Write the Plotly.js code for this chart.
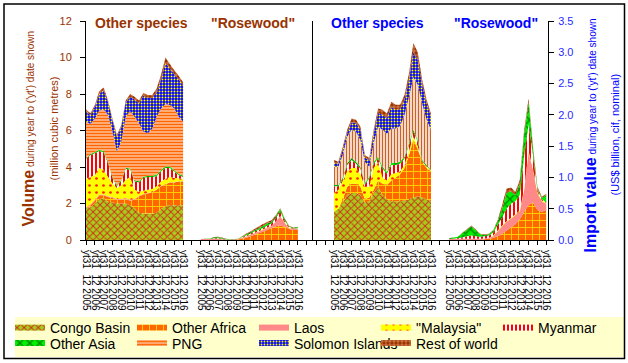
<!DOCTYPE html>
<html><head><meta charset="utf-8">
<script src="https://cdn.plot.ly/plotly-3.0.1.min.js"></script>
<style>html,body{margin:0;padding:0;background:#fff}#chart{width:628px;height:363px}</style>
</head><body><div id="chart"></div>
<script>
// ---------- DATA ----------
const TIMES = [2005,2005.5,2006,2006.5,2007,2007.5,2008,2008.5,2009,2009.5,2010,2010.5,2011,2011.5,2012,2012.5,2013,2013.5,2014,2014.5,2015,2015.5,2016];
const TICK_LABELS = ['yt31\u00a0\u00a012 2005','yt31\u00a0\u00a012 2006','yt31\u00a0\u00a012 2007','yt31\u00a0\u00a012 2008','yt31\u00a0\u00a012 2009','yt31\u00a0\u00a012 2010','yt31\u00a0\u00a012 2011','yt31\u00a0\u00a012 2012','yt31\u00a0\u00a012 2013','yt31\u00a0\u00a012 2014','yt31\u00a0\u00a012 2015','yt31\u00a0\u00a012 2016'];
const SERIES = ['Congo Basin','Other Africa','Laos','"Malaysia"','Myanmar','Other Asia','PNG','Solomon Islands','Rest of world'];
const Y_LEFT_TICKS = [0,2,4,6,8,10,12];
const Y_RIGHT_TICKS = [0,0.5,1,1.5,2,2.5,3,3.5];

// Volume, other species (million m3)
const vo_congo       = [1.75,1.8,2.0,2.25,2.3,2.1,2.05,2.0,2.0,2.0,1.9,1.75,1.5,1.45,1.45,1.45,1.5,1.7,1.85,1.9,1.9,1.9,1.9];
const vo_otherAfrica = [0,0.1,0.15,0.2,0.15,0.25,0.25,0.2,0.2,0.25,0.25,0.45,0.9,1.05,1.1,1.15,1.25,1.25,1.2,1.25,1.25,1.3,1.3];
const vo_laos        = [0.05,0.05,0.05,0.05,0.05,0.05,0.05,0.05,0.05,0.05,0.05,0.05,0.02,0.02,0.02,0.02,0.02,0.02,0.02,0.02,0.02,0.02,0.02];
const vo_malaysia    = [1.55,1.5,1.35,1.45,1.35,1.05,0.75,0.6,0.75,1.0,1.25,0.5,0.23,0.18,0.18,0.18,0.18,0.23,0.28,0.28,0.23,0.16,0.13];
const vo_myanmar     = [1.1,1.2,1.2,0.92,0.95,0.75,0.3,0.1,0.25,0.6,0.4,0.45,0.5,0.7,0.7,0.65,0.55,0.55,0.6,0.5,0.35,0.17,0.1];
const vo_otherAsia   = [0.05,0.05,0.07,0.08,0.08,0.07,0.06,0.05,0.05,0.06,0.07,0.07,0.07,0.07,0.07,0.07,0.07,0.08,0.08,0.08,0.07,0.07,0.07];
const vo_png         = [2.0,1.65,1.83,2.15,2.27,2.58,2.49,1.85,2.1,2.79,3.13,3.48,3.18,2.48,2.33,2.58,3.18,3.37,3.42,3.37,3.38,3.13,2.98];
const vo_solomon     = [0.55,0.5,0.65,0.9,1.05,0.7,0.6,0.8,0.8,0.8,0.8,0.95,1.1,1.95,1.95,1.7,1.35,1.6,2.25,2.0,1.9,2.05,2.0];
const vo_rest        = [0.1,0.1,0.1,0.15,0.15,0.1,0.1,0.1,0.1,0.1,0.15,0.15,0.15,0.15,0.15,0.15,0.2,0.25,0.3,0.25,0.2,0.2,0.15];

// Volume, "Rosewood" (million m3)
const vr_congo       = [0,0,0,0,0,0,0,0,0,0,0,0,0,0,0,0,0,0,0,0,0,0,0];
const vr_otherAfrica = [0,0,0,0,0,0,0,0,0.02,0.05,0.1,0.18,0.27,0.35,0.45,0.55,0.65,0.75,0.8,0.72,0.6,0.55,0.56];
const vr_laos        = [0.05,0.06,0.07,0.07,0.06,0.04,0.02,0.02,0.01,0.03,0.05,0.07,0.08,0.1,0.1,0.1,0.1,0.25,0.5,0.23,0.05,0.05,0.07];
const vr_malaysia    = [0,0,0,0,0,0,0,0,0,0.01,0.02,0.02,0.02,0.02,0.02,0.02,0.02,0.02,0.02,0.02,0.02,0.01,0.01];
const vr_myanmar     = [0,0,0,0.02,0.03,0.02,0.01,0.01,0.01,0.02,0.05,0.05,0.08,0.08,0.08,0.11,0.13,0.18,0.23,0.08,0.05,0.02,0.02];
const vr_otherAsia   = [0.01,0.01,0.01,0.06,0.06,0.04,0.02,0.01,0.01,0.02,0.06,0.08,0.07,0.07,0.1,0.12,0.1,0.1,0.15,0.1,0.04,0.04,0.05];
const vr_png         = [0,0,0,0,0,0,0,0,0,0,0,0,0,0,0,0,0,0,0,0,0,0,0];
const vr_solomon     = [0,0,0,0,0,0,0,0,0,0,0,0,0,0,0,0,0,0,0,0,0,0,0];
const vr_rest        = [0,0,0,0.02,0.03,0.02,0.01,0.01,0.01,0.01,0.03,0.04,0.06,0.1,0.11,0.08,0.08,0.06,0.04,0.04,0.02,0.01,0.02];

// Import value, other species (US$ billion)
const io_congo       = [0.45,0.5,0.6,0.72,0.75,0.75,0.72,0.6,0.62,0.75,0.85,0.72,0.65,0.62,0.62,0.62,0.63,0.65,0.68,0.7,0.68,0.65,0.62];
const io_otherAfrica = [0,0,0.05,0.13,0.15,0.15,0.13,0.05,0.06,0.05,0.1,0.18,0.23,0.33,0.38,0.43,0.52,0.7,0.92,0.75,0.57,0.5,0.48];
const io_laos        = [0,0,0,0,0,0,0,0,0,0,0,0,0,0,0,0,0,0,0,0,0,0,0];
const io_malaysia    = [0.3,0.3,0.3,0.25,0.25,0.25,0.2,0.2,0.17,0.35,0.3,0.1,0.07,0.1,0.07,0.05,0.05,0.07,0.06,0.05,0.0,0.02,0.01];
const io_myanmar     = [0.11,0.06,0.02,0.1,0.13,0.07,0.09,0.04,0.13,0.07,0.05,0.14,0.11,0.15,0.13,0.12,0.1,0.1,0.07,0.07,0.01,0.01,0.0];
const io_otherAsia   = [0.02,0.02,0.03,0.03,0.03,0.03,0.03,0.02,0.03,0.03,0.03,0.03,0.03,0.03,0.03,0.03,0.03,0.03,0.03,0.03,0.02,0.02,0.01];
const io_png         = [0.29,0.29,0.36,0.42,0.45,0.48,0.43,0.34,0.16,0.3,0.48,0.59,0.61,0.55,0.55,0.57,0.67,0.74,0.84,0.88,0.9,0.72,0.64];
const io_solomon     = [0.07,0.05,0.09,0.07,0.12,0.14,0.16,0.07,0.1,0.15,0.22,0.24,0.25,0.35,0.3,0.27,0.24,0.27,0.4,0.4,0.3,0.26,0.21];
const io_rest        = [0.04,0.03,0.04,0.04,0.06,0.05,0.05,0.04,0.04,0.06,0.07,0.08,0.07,0.08,0.08,0.07,0.08,0.1,0.15,0.12,0.08,0.06,0.05];

// Import value, "Rosewood" (US$ billion)
const ir_congo       = [0,0,0,0,0,0,0,0,0,0,0,0,0,0,0,0,0,0,0,0,0,0,0];
const ir_otherAfrica = [0,0,0,0,0,0,0,0,0.01,0.02,0.03,0.06,0.1,0.15,0.2,0.25,0.33,0.45,0.56,0.6,0.48,0.45,0.48];
const ir_laos        = [0.02,0.02,0.02,0.02,0.02,0.02,0.02,0.02,0.01,0.01,0.03,0.08,0.12,0.14,0.14,0.15,0.12,0.35,0.84,0.52,0.27,0.17,0.1];
const ir_malaysia    = [0,0,0,0,0,0,0,0,0,0,0.01,0.01,0.01,0.01,0.01,0.01,0.02,0.02,0.02,0.02,0.02,0.01,0.01];
const ir_myanmar     = [0,0,0.01,0.02,0.04,0.05,0.04,0.03,0.04,0.04,0.05,0.09,0.13,0.2,0.23,0.21,0.25,0.53,0.43,0.21,0.03,0.02,0.01];
const ir_otherAsia   = [0.01,0.02,0.02,0.07,0.1,0.15,0.1,0.04,0.02,0.02,0.03,0.06,0.14,0.25,0.2,0.1,0.18,0.35,0.35,0.1,0.02,0.02,0.12];
const ir_png         = [0,0,0,0,0,0,0,0,0,0,0,0,0,0,0,0,0,0,0,0,0,0,0];
const ir_solomon     = [0,0,0,0,0,0,0,0,0,0,0,0,0,0,0,0,0,0,0,0,0,0,0];
const ir_rest        = [0,0,0,0.01,0.01,0.01,0.01,0.01,0.01,0.01,0.01,0.02,0.06,0.07,0.06,0.05,0.06,0.06,0.06,0.04,0.03,0.02,0.02];

// ---------- STYLE / LAYOUT ----------
const W = 628, H = 363;
const FONT = 'Liberation Sans, Arial, sans-serif';
const px = v => v / W;
const py = v => 1 - v / H;
const BROWN = '#993300', BLUE = '#0000ff';

const PAT = {
  'Congo Basin':   {shape:'x', bgcolor:'#a8cc1e', fgcolor:'#d03018', size:5, solidity:0.35},
  'Other Africa':  {shape:'+', bgcolor:'#ff6600', fgcolor:'#ffd200', size:7, solidity:0.25},
  'Laos':          null,
  '"Malaysia"':    {shape:'.', bgcolor:'#ffff00', fgcolor:'#ff2000', size:7, solidity:0.12},
  'Myanmar':       {shape:'|', bgcolor:'#ffffff', fgcolor:'#ff0000', size:4, solidity:0.5},
  'Other Asia':    {shape:'x', bgcolor:'#00ee00', fgcolor:'#008800', size:7, solidity:0.35},
  'PNG':           {shape:'-', bgcolor:'#ffffff', fgcolor:'#ff6600', size:3, solidity:0.7},
  'Solomon Islands':{shape:'.', bgcolor:'#0000ff', fgcolor:'#ffff00', size:3, solidity:0.35},
  'Rest of world': {shape:'+', bgcolor:'#993300', fgcolor:'#ffb080', size:4, solidity:0.25}
};
const PNG_RIGHT = {shape:'|', bgcolor:'#ffffff', fgcolor:'#d06020', size:3, solidity:0.5};

const G1 = 0, G2 = 13, G3 = 2.49, G4 = 15.55;

const traces = [];
function addGroup(stack, xa, ya, offset, values, right, legend) {
  SERIES.forEach((name, i) => {
    let pat = PAT[name];
    if (right && name === 'PNG') pat = PNG_RIGHT;
    const t = {
      type:'scatter', mode:'none', name:name,
      x: TIMES.map(v => v - 2005 + offset), y: values[i],
      xaxis: xa, yaxis: ya, stackgroup: stack,
      line:{width:0}, hoverinfo:'skip',
      legendgroup: name, showlegend: legend,
      legend: i < 5 ? 'legend' : 'legend2'
    };
    if (pat) { t.fillpattern = Object.assign({fillmode:'replace'}, pat); t.fillcolor = pat.bgcolor; }
    else { t.fillcolor = '#ff8888'; }
    traces.push(t);
  });
}
addGroup('g1','x','y',G1,[vo_congo,vo_otherAfrica,vo_laos,vo_malaysia,vo_myanmar,vo_otherAsia,vo_png,vo_solomon,vo_rest],false,true);
addGroup('g2','x','y',G2,[vr_congo,vr_otherAfrica,vr_laos,vr_malaysia,vr_myanmar,vr_otherAsia,vr_png,vr_solomon,vr_rest],false,false);
addGroup('g3','x2','y2',G3,[io_congo,io_otherAfrica,io_laos,io_malaysia,io_myanmar,io_otherAsia,io_png,io_solomon,io_rest],true,false);
addGroup('g4','x2','y2',G4,[ir_congo,ir_otherAfrica,ir_laos,ir_malaysia,ir_myanmar,ir_otherAsia,ir_png,ir_solomon,ir_rest],true,false);

// tick positions
const leftVals = [], leftText = [];
for (let k = 0; k <= 25; k++) {
  leftVals.push(k);
  leftText.push(k < 12 ? TICK_LABELS[k] : (k >= 13 && k <= 24 ? TICK_LABELS[k-13] : ''));
}
const rightVals = [G3-2, G3-1], rightText = ['', ''];
TICK_LABELS.forEach((l,i) => { rightVals.push(G3+i); rightText.push(l); });
rightVals.push(G3+12); rightText.push('');
TICK_LABELS.forEach((l,i) => { rightVals.push(G4+i); rightText.push(l); });

const yDom = [py(240), py(21)];
const xCommon = {showline:true, linecolor:'#000', linewidth:1, ticks:'outside', ticklen:4, tickcolor:'#000',
  tickangle:90, ticklabelstandoff:3, tickfont:{size:10, color:'#000', family:FONT}, showgrid:false, zeroline:false, fixedrange:true};

const legendCommon = {orientation:'h', xanchor:'left', yanchor:'middle', entrywidthmode:'pixels', entrywidth:77,
  font:{size:14, color:'#000', family:FONT}, bgcolor:'rgba(0,0,0,0)', traceorder:'normal', itemclick:false, itemdoubleclick:false};

const layout = {
  width: W, height: H, margin:{l:0,r:0,t:0,b:0}, paper_bgcolor:'#fff', plot_bgcolor:'rgba(0,0,0,0)',
  font:{family:FONT},
  xaxis: Object.assign({}, xCommon, {domain:[px(86), px(312)], range:[0, 25.6], anchor:'y', tickmode:'array', tickvals:leftVals, ticktext:leftText}),
  xaxis2: Object.assign({}, xCommon, {domain:[px(312), px(548)], range:[0, 26.75], anchor:'y2', tickmode:'array', tickvals:rightVals, ticktext:rightText}),
  yaxis: {domain:yDom, range:[0,12], anchor:'x', tickmode:'array', tickvals:Y_LEFT_TICKS, showline:true, mirror:true, linecolor:'#000', linewidth:1,
    ticks:'outside', ticklen:5, tickcolor:'#000', ticklabelstandoff:6, tickfont:{size:11, color:BROWN, family:FONT}, showgrid:false, zeroline:false, fixedrange:true},
  yaxis2: {domain:yDom, range:[0,3.5], anchor:'x2', side:'right', tickmode:'array', tickvals:Y_RIGHT_TICKS, tickformat:'.1f', showline:true, linecolor:'#000', linewidth:1,
    ticks:'outside', ticklen:5, tickcolor:'#000', ticklabelstandoff:2, tickfont:{size:11, color:'#2a2aff', family:FONT}, showgrid:false, zeroline:false, fixedrange:true},
  showlegend: true,
  legend: Object.assign({}, legendCommon, {x:px(10), y:py(328)}),
  legend2: Object.assign({}, legendCommon, {x:px(10), y:py(343.5)}),
  shapes: [
    {type:'rect', xref:'paper', yref:'paper', x0:px(15), x1:px(624), y0:py(357), y1:py(317), fillcolor:'#ffffcc', line:{width:0}, layer:'below'},
    {type:'rect', xref:'paper', yref:'paper', x0:px(4), x1:px(624.5), y0:py(358.5), y1:py(4), line:{color:'#000', width:1.5}, fillcolor:'rgba(0,0,0,0)', layer:'above'}
  ],
  annotations: [
    {xref:'paper', yref:'paper', x:px(141.5), y:py(23), text:'<b>Other species</b>', showarrow:false, font:{size:14, color:BROWN, family:FONT}, xanchor:'center', yanchor:'middle'},
    {xref:'paper', yref:'paper', x:px(253), y:py(23), text:'<b>"Rosewood"</b>', showarrow:false, font:{size:14, color:BROWN, family:FONT}, xanchor:'center', yanchor:'middle'},
    {xref:'paper', yref:'paper', x:px(377), y:py(23), text:'<b>Other species</b>', showarrow:false, font:{size:14, color:BLUE, family:FONT}, xanchor:'center', yanchor:'middle'},
    {xref:'paper', yref:'paper', x:px(496), y:py(23), text:'<b>"Rosewood"</b>', showarrow:false, font:{size:14, color:BLUE, family:FONT}, xanchor:'center', yanchor:'middle'},
    {xref:'paper', yref:'paper', x:px(28.5), y:py(129), textangle:-90, showarrow:false, xanchor:'center', yanchor:'middle',
      text:'<b><span style="font-size:16px">Volume</span></b> during year to (\'yt\') date shown', font:{size:10, color:BROWN, family:FONT}},
    {xref:'paper', yref:'paper', x:px(53), y:py(128.5), textangle:-90, showarrow:false, xanchor:'center', yanchor:'middle',
      text:'(million cubic metres)', font:{size:11, color:BROWN, family:FONT}},
    {xref:'paper', yref:'paper', x:px(590), y:py(135.5), textangle:-90, showarrow:false, xanchor:'center', yanchor:'middle',
      text:'<b><span style="font-size:16px">Import value</span></b> during year to (\'yt\') date shown', font:{size:10, color:BLUE, family:FONT}},
    {xref:'paper', yref:'paper', x:px(614), y:py(134.5), textangle:-90, showarrow:false, xanchor:'center', yanchor:'middle',
      text:'(US$ billion, cif, nominal)', font:{size:11, color:BLUE, family:FONT}}
  ]
};

Plotly.newPlot('chart', traces, layout, {displayModeBar:false, staticPlot:true});
</script>
</body></html>
